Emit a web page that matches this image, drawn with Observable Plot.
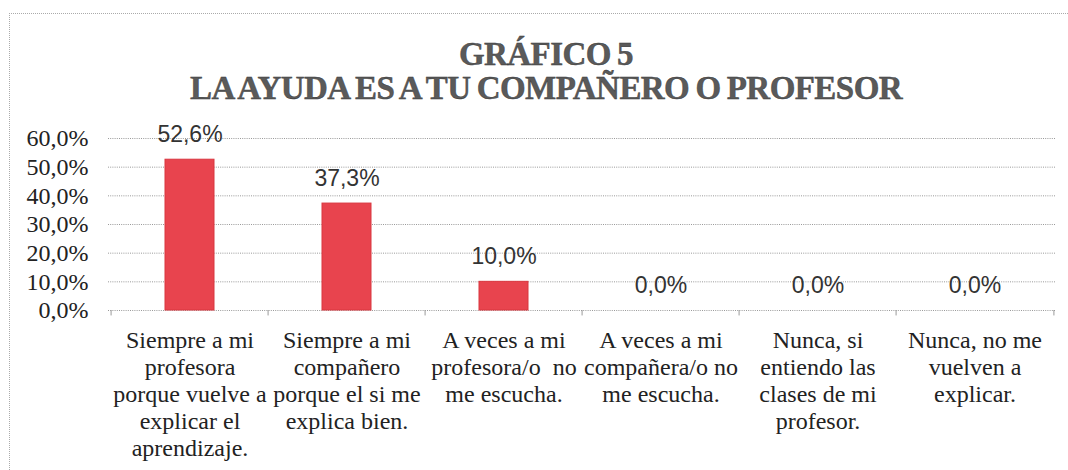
<!DOCTYPE html>
<html>
<head>
<meta charset="utf-8">
<script src="https://cdn.jsdelivr.net/npm/d3@7"></script>
<script src="https://cdn.jsdelivr.net/npm/@observablehq/plot@0.6"></script>
<style>
  html, body { margin: 0; padding: 0; background: #fff; }
  #page { position: relative; width: 1068px; height: 470px; overflow: hidden; background: #fff; }
  #frame { position: absolute; left: 9px; top: 13px; width: 1100px; height: 500px;
           border-top: 1px dotted #aaa; border-left: 1px dotted #aaa; }
  .title { position: absolute; left: 0; width: 1092px; text-align: center;
           font-family: "Liberation Serif", "Times New Roman", serif; font-weight: bold;
           font-size: 33px; line-height: 33px; color: #5a5a5a; letter-spacing: -0.55px; word-spacing: -1.5px;
           -webkit-text-stroke: 0.4px #333; }
  #chart { position: absolute; left: 0; top: 115px; }
</style>
</head>
<body>
<div id="page">
  <div id="frame"></div>
  <div class="title" id="t1" style="top:38px">GRÁFICO 5</div>
  <div class="title" id="t2" style="top:72px">LA AYUDA ES A TU COMPAÑERO O PROFESOR</div>
  <div id="chart"></div>
</div>
<script>
const categories = [
  "Siempre a mi\nprofesora\nporque vuelve a\nexplicar el\naprendizaje.",
  "Siempre a mi\ncompañero\nporque el si me\nexplica bien.",
  "A veces a mi\nprofesora/o  no\nme escucha.",
  "A veces a mi\ncompañera/o no\nme escucha.",
  "Nunca, si\nentiendo las\nclases de mi\nprofesor.",
  "Nunca, no me\nvuelven a\nexplicar."
];
const values = [52.6, 37.3, 10.0, 0.0, 0.0, 0.0];
const yTicks = [0, 10, 20, 30, 40, 50, 60];

const fmt = d => d.toFixed(1).replace(".", ",") + "%";
const data = categories.map((c, i) => ({cat: c, value: values[i]}));

const W = 1068, H = 355, mL = 108, mR = 13, mT = 23, mB = 160;
const step = (W - mL - mR) / categories.length;

const chart = Plot.plot({
  width: W,
  height: H,
  marginLeft: mL,
  marginRight: mR,
  marginTop: mT,
  marginBottom: mB,
  style: {fontFamily: "'Liberation Serif', 'Times New Roman', serif", fontSize: "24px", color: "#222", background: "transparent"},
  x: {domain: categories, padding: 0, axis: null},
  y: {domain: [0, 60], axis: null},
  marks: [
    Plot.gridY(yTicks, {stroke: "#999", strokeOpacity: 1, strokeDasharray: "1,1.2"}),
    Plot.axisY(yTicks, {tickFormat: fmt, tickSize: 0, tickPadding: 20, fontSize: 24, fill: "#222", label: null}),
    Plot.ruleX(categories, {x: d => d, dx: -step / 2, y1: 0, y2: -1.9, stroke: "#999"}),
    Plot.ruleX([categories[categories.length - 1]], {x: d => d, dx: step / 2, y1: 0, y2: -1.9, stroke: "#999"}),
    Plot.barY(data, {x: "cat", y: "value", fill: "#e8444e", stroke: "#d9363f", strokeWidth: 1, insetLeft: 54, insetRight: 54}),
    Plot.text(data, {x: "cat", y: "value", text: d => fmt(d.value), dy: -25,
      fontFamily: "'Liberation Sans', Arial, sans-serif", fontSize: 23, fill: "#333"}),
    Plot.text(categories, {x: d => d, frameAnchor: "bottom", lineAnchor: "top", dy: 18,
      lineHeight: 1.125, fontSize: 24, fill: "#222", text: d => d})
  ]
});
document.getElementById("chart").appendChild(chart);
</script>
</body>
</html>
